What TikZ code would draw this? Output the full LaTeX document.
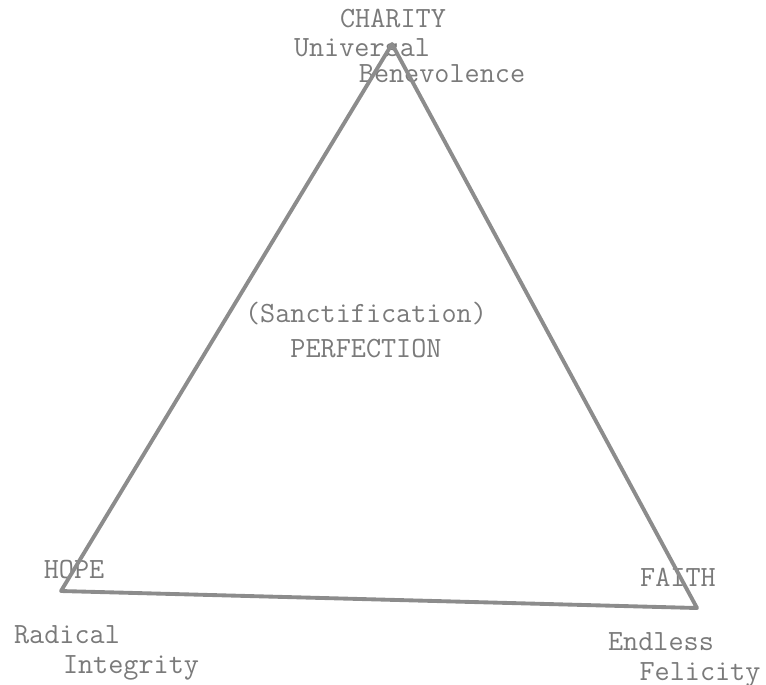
\documentclass[tikz,border=0pt]{standalone}
\usetikzlibrary{positioning}
\definecolor{Ink}{HTML}{7A7A7A}
\definecolor{Stroke}{HTML}{8C8C8C}
\tikzset{
    word/.style={inner sep=0pt, anchor=base, text=Ink, font=\ttfamily\fontsize{16.7}{19}\selectfont},
    side/.style={line width=2.2pt, color=Stroke, line join=round, line cap=round},
}
\begin{document}
\begin{tikzpicture}[x=0.02cm, y=-0.02cm]
    \useasboundingbox (0,0) rectangle (766,684);
    % corners of the triangle
    \coordinate (charity) at (392,44);
    \coordinate (hope) at (61,591);
    \coordinate (faith) at (697,608);
    % top
    \node[word] (charityLbl) at (393,27) {CHARITY};
    \node[word] (universal) at (362,56) {Universal};
    \node[word] (benevolence) at (442,82) {Benevolence};
    % middle
    \node[word] (sanct) at (366,322) {(Sanctification)};
    \node[word] (perfection) at (366,357) {PERFECTION};
    % bottom corners
    \node[word] (hopeLbl) at (74,578) {HOPE};
    \node[word] (faithLbl) at (678,586) {FAITH};
    \node[word] (radical) at (67,643) {Radical};
    \node[word] (integrity) at (131,673) {Integrity};
    \node[word] (endless) at (661,650) {Endless};
    \node[word] (felicity) at (700,680) {Felicity};
    \draw[side] (charity) -- (hope) -- (faith) -- cycle;
\end{tikzpicture}
\end{document}
